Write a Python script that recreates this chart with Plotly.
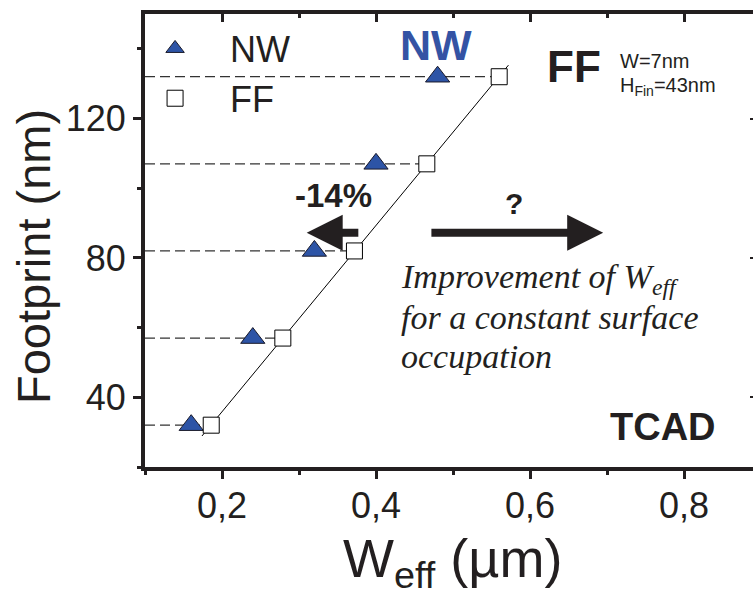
import numpy as np
import plotly.graph_objects as go

# ---- data ----
nw_weff = [0.16, 0.24, 0.32, 0.40, 0.48]
nw_footprint = [32, 57, 82, 107, 132]
ff_weff = [0.186, 0.279, 0.372, 0.466, 0.56]
ff_footprint = [32, 57, 82, 107, 132]
x_range = [0.1, 0.8896]
y_range = [20, 150]
x_ticks = [0.2, 0.4, 0.6, 0.8]
y_ticks = [40, 80, 120]
note_lines = ["<i>Improvement of W<sub>eff</sub></i>", "<i>for a constant surface</i>", "<i>occupation</i>"]

INK = "#231f20"
BLUE = "#2d54a6"
FONT = "Liberation Sans, Arial, sans-serif"

fig = go.Figure()

# dashed guide lines from the y axis to each FF point
dx, dy = [], []
for xf, yf in zip(ff_weff, ff_footprint):
    dx += [x_range[0], xf, None]
    dy += [yf, yf, None]
fig.add_trace(go.Scatter(x=dx, y=dy, mode="lines", showlegend=False, hoverinfo="skip",
                         line=dict(color="#333333", width=1.3, dash="10px,5px")))

# linear fit through FF points, slightly extended
p = np.polyfit(ff_weff, ff_footprint, 1)
fx = np.array([min(ff_weff) - 0.012, max(ff_weff) + 0.012])
fig.add_trace(go.Scatter(x=fx, y=np.polyval(p, fx), mode="lines", showlegend=False,
                         hoverinfo="skip", line=dict(color="black", width=1)))

fig.add_trace(go.Scatter(x=nw_weff, y=nw_footprint, mode="markers", name="NW",
                         marker=dict(symbol="triangle-up", size=21, color=BLUE,
                                     line=dict(color="#1a1a2a", width=1))))
fig.add_trace(go.Scatter(x=ff_weff, y=ff_footprint, mode="markers", name="FF",
                         marker=dict(symbol="square", size=16, color="white",
                                     line=dict(color="black", width=1))))
# invisible traces to register the extra axes
fig.add_trace(go.Scatter(x=[None], y=[None], xaxis="x2", yaxis="y2", showlegend=False,
                         hoverinfo="skip"))
fig.add_trace(go.Scatter(x=[None], y=[None], xaxis="x3", yaxis="y", showlegend=False,
                         hoverinfo="skip"))

def ann(x, y, text, size, bold=False, color=INK, xanchor="center", family=FONT, **kw):
    fig.add_annotation(x=x, y=y, xref="x", yref="y", text=f"<b>{text}</b>" if bold else text,
                       showarrow=False, xanchor=xanchor, yanchor="middle",
                       font=dict(size=size, color=color, family=family), **kw)

ann(0.478, 141, "NW", 43, bold=True, color="#3453a4")
ann(0.657, 135, "FF", 44, bold=True)
ann(0.714, 136.4, "W=7nm", 20, xanchor="left")
ann(0.714, 129.2, "H<sub>Fin</sub>=43nm", 20, xanchor="left")
ann(0.345, 97.8, "-14%", 33, bold=True)
ann(0.579, 95.5, "?", 30, bold=True)
ann(0.773, 31.4, "TCAD", 38, bold=True)
for line, yv in zip(note_lines, [74.0, 62.9, 51.6]):
    ann(0.43, yv, line, 34, xanchor="left", family="Liberation Serif, Times New Roman, serif")

# axis titles
fig.add_annotation(x=-0.1826, y=1 - (256 - 14) / 453, xref="paper", yref="paper", showarrow=False,
                   xanchor="center", yanchor="middle", textangle=-90, text="Footprint (nm)",
                   font=dict(size=47, color=INK, family=FONT))
fig.add_annotation(x=(452 - 145) / 608, y=1 - (562 - 14) / 453, xref="paper", yref="paper",
                   showarrow=False, xanchor="center", yanchor="middle",
                   text="W<sub>eff</sub> (µm)", font=dict(size=54, color=INK, family=FONT))

# arrows
for tail, tip in [(0.379, 0.310), (0.470, 0.695)]:
    fig.add_annotation(x=tip, y=87.2, ax=tail, ay=87.2, xref="x", yref="y", axref="x", ayref="y",
                       text="", showarrow=True, arrowhead=2, arrowsize=0.9, arrowwidth=8,
                       arrowcolor=INK)

axis_common = dict(linecolor=INK, linewidth=4, showgrid=False, zeroline=False,
                   tickcolor=INK, tickwidth=3)

fig.update_layout(
    width=753, height=597,
    margin=dict(l=145, r=0, t=14, b=130),
    paper_bgcolor="white", plot_bgcolor="white",
    separators=", ",
    font=dict(family=FONT, color=INK),
    showlegend=True,
    legend=dict(x=-0.041, y=0.99, xanchor="left", yanchor="top", bgcolor="rgba(0,0,0,0)",
                font=dict(size=36, color=INK, family=FONT), itemwidth=100,
                tracegroupgap=0),
    xaxis=dict(range=x_range, tickvals=x_ticks, ticks="outside", ticklen=8,
               showticklabels=False, showline=True, mirror=False,
               minor=dict(dtick=0.1, tick0=0, ticks="outside", ticklen=4, tickwidth=3, tickcolor=INK),
               **axis_common),
    xaxis3=dict(range=x_range, overlaying="x", side="bottom", anchor="y", tickvals=x_ticks,
                tickformat=".1f", ticks="outside", ticklen=7, tickcolor="rgba(0,0,0,0)",
                showline=False, showgrid=False, zeroline=False,
                tickfont=dict(size=36, color=INK)),
    yaxis=dict(range=y_range, tickvals=y_ticks, ticks="outside", ticklen=8,
               tickfont=dict(size=36, color=INK), showline=True, mirror=False,
               minor=dict(dtick=20, tick0=0, ticks="outside", ticklen=4, tickwidth=3, tickcolor=INK),
               **axis_common),
    xaxis2=dict(range=x_range, overlaying="x", side="top", anchor="y", tickvals=x_ticks,
                ticks="inside", ticklen=8, showticklabels=False, showline=True,
                minor=dict(dtick=0.1, tick0=0, ticks="inside", ticklen=4, tickwidth=3, tickcolor=INK),
                **axis_common),
    yaxis2=dict(range=y_range, overlaying="y", side="right", anchor="x", tickvals=y_ticks,
                ticks="inside", ticklen=3, tickwidth=2, tickcolor=INK, showticklabels=False,
                showline=False, showgrid=False, zeroline=False),
)

fig.write_html("out.html")
